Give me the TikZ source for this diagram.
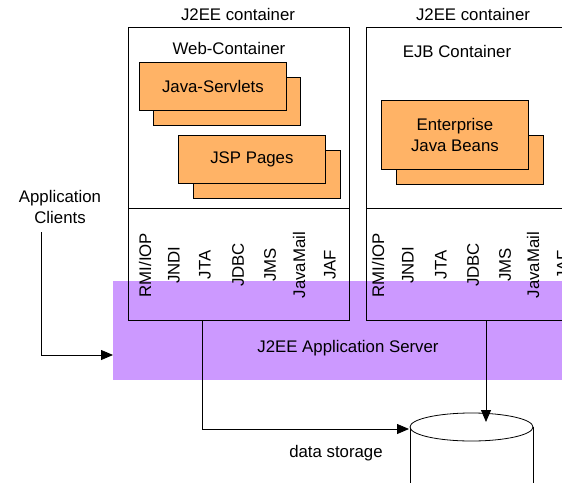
\documentclass[tikz,border=0pt]{standalone}
\usepackage{fontspec}
\setmainfont{Liberation Sans}
\usetikzlibrary{arrows.meta}
\definecolor{orangebox}{HTML}{FFB366}
\definecolor{purpleband}{HTML}{CC99FF}
\begin{document}
\begin{tikzpicture}[x=1pt,y=-1pt,
  font=\fontsize{16.8}{21}\selectfont,
  frame/.style={draw, line width=0.8pt, anchor=north west, inner sep=0pt},
  card/.style={draw, fill=orangebox, line width=0.8pt, anchor=north west, inner sep=0pt,
    minimum width=147pt, minimum height=48pt, align=center},
  vlabel/.style={rotate=90, inner sep=0pt},
  conn/.style={line width=0.8pt, -{Triangle[length=12pt,width=10pt]}},
  plainline/.style={line width=0.8pt}]
\useasboundingbox (0,0) rectangle (562,482);
\clip (0,0) rectangle (562,482);
\fill[white] (0,0) rectangle (562,482);
% application server band
\node[frame, draw=none, fill=purpleband, minimum width=460pt, minimum height=99pt] (band) at (113,281) {};
\node (bandlabel) at (348,348) {J2EE Application Server};
% containers
\node[frame, minimum width=221pt, minimum height=293pt] (webc) at (128,27) {};
\node[frame, minimum width=240pt, minimum height=293pt] (ejbc) at (366,27) {};
\draw[plainline] (128,208) -- (349,208);
\draw[plainline] (366,208) -- (606,208);
\node (t1) at (238,14) {J2EE container};
\node (t2) at (473,14) {J2EE container};
\node (wc) at (229,48) {Web-Container};
\node (ec) at (457,51) {EJB Container};
% cards
\node[card] (servb) at (153,77) {};
\node[card] (serv) at (139,62) {Java-Servlets};
\node[card] (jspb) at (193,150) {};
\node[card] (jsp) at (178,135) {JSP Pages};
\node[card, minimum height=49pt] (ejbb) at (396,135) {};
\node[card, minimum height=69pt] (ejb) at (381,100) {Enterprise\\Java Beans};
% services left
\node[vlabel] (l1) at (145,265) {RMI/IOP};
\node[vlabel] (l2) at (174,265) {JNDI};
\node[vlabel] (l3) at (205,265) {JTA};
\node[vlabel] (l4) at (238,265) {JDBC};
\node[vlabel] (l5) at (270,265) {JMS};
\node[vlabel] (l6) at (299,265) {JavaMail};
\node[vlabel] (l7) at (330,265) {JAF};
% services right
\node[vlabel] (r1) at (378,265) {RMI/IOP};
\node[vlabel] (r2) at (408,265) {JNDI};
\node[vlabel] (r3) at (441,265) {JTA};
\node[vlabel] (r4) at (473,265) {JDBC};
\node[vlabel] (r5) at (505,265) {JMS};
\node[vlabel] (r6) at (533,265) {JavaMail};
\node[vlabel] (r7) at (563,265) {JAF};
% application clients
\node[align=center, inner sep=0pt] (ac) at (60,207) {Application\\Clients};
\coordinate (acout) at (41,232);
\coordinate (acin) at (113,355);
\draw[conn] (acout) |- (acin);
% data storage
\draw[plainline, fill=white] (410,427) -- (410,520) -- (533,520) -- (533,427);
\draw[plainline, fill=white] (471.5,427) ellipse [x radius=61.5, y radius=14];
\node (ds) at (336,453) {data storage};
\coordinate (dbl) at (409,429);
\coordinate (dbt) at (486,422);
\coordinate (wout) at (202,320);
\coordinate (eout) at (486,320);
\draw[conn] (wout) |- (dbl);
\draw[conn] (eout) -- (dbt);
\end{tikzpicture}
\end{document}
